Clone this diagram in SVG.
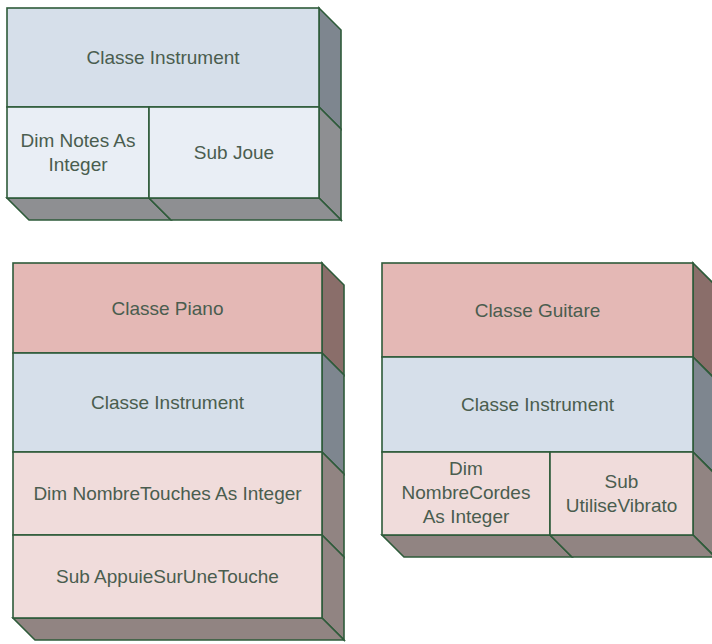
<svg xmlns="http://www.w3.org/2000/svg" width="712" height="644" viewBox="0 0 712 644">
<style>
.f{stroke:#2e5b3a;stroke-width:1.6;stroke-linejoin:miter}
.hb{fill:#d6dfea}.lb{fill:#e9eef5}.hp{fill:#e4b8b5}.lp{fill:#f0dcdb}
.sb{fill:#7e868f}.sg{fill:#8e8f92}.sp{fill:#8a6e6a}.sl{fill:#918482}
text{font-family:"Liberation Sans",Arial,sans-serif;font-size:19px;fill:#4a5d4f;text-anchor:middle}
</style>
<rect width="712" height="644" fill="#ffffff"/>
<g id="instrument">
<polygon class="f sb" points="319,8 341,30 341,129 319,107"/>
<polygon class="f sg" points="319,107 341,129 341,220 319,198"/>
<polygon class="f sg" points="7,198 149,198 171,220 29,220"/>
<polygon class="f sg" points="149,198 319,198 341,220 171,220"/>
<rect class="f hb" x="7" y="8" width="312" height="99"/>
<rect class="f lb" x="7" y="107" width="142" height="91"/>
<rect class="f lb" x="149" y="107" width="170" height="91"/>
<text x="163" y="64">Classe Instrument</text>
<text x="78" y="147">Dim Notes As</text>
<text x="78" y="171">Integer</text>
<text x="234" y="159">Sub Joue</text>
</g>
<g id="piano">
<polygon class="f sp" points="322,263 344,285 344,375 322,353"/>
<polygon class="f sb" points="322,353 344,375 344,474 322,452"/>
<polygon class="f sl" points="322,452 344,474 344,557 322,535"/>
<polygon class="f sl" points="322,535 344,557 344,640 322,618"/>
<polygon class="f sl" points="13,618 322,618 344,640 35,640"/>
<rect class="f hp" x="13" y="263" width="309" height="90"/>
<rect class="f hb" x="13" y="353" width="309" height="99"/>
<rect class="f lp" x="13" y="452" width="309" height="83"/>
<rect class="f lp" x="13" y="535" width="309" height="83"/>
<text x="167.5" y="315">Classe Piano</text>
<text x="167.5" y="409">Classe Instrument</text>
<text x="167.5" y="500">Dim NombreTouches As Integer</text>
<text x="167.5" y="583">Sub AppuieSurUneTouche</text>
</g>
<g id="guitare">
<polygon class="f sp" points="693,263 715,285 715,379 693,357"/>
<polygon class="f sb" points="693,357 715,379 715,474 693,452"/>
<polygon class="f sl" points="693,452 715,474 715,557 693,535"/>
<polygon class="f sl" points="382,535 550,535 572,557 404,557"/>
<polygon class="f sl" points="550,535 693,535 715,557 572,557"/>
<rect class="f hp" x="382" y="263" width="311" height="94"/>
<rect class="f hb" x="382" y="357" width="311" height="95"/>
<rect class="f lp" x="382" y="452" width="168" height="83"/>
<rect class="f lp" x="550" y="452" width="143" height="83"/>
<text x="537.5" y="317">Classe Guitare</text>
<text x="537.5" y="411">Classe Instrument</text>
<text x="466" y="475">Dim</text>
<text x="466" y="499">NombreCordes</text>
<text x="466" y="523">As Integer</text>
<text x="621.5" y="488">Sub</text>
<text x="621.5" y="512">UtiliseVibrato</text>
</g>
</svg>
